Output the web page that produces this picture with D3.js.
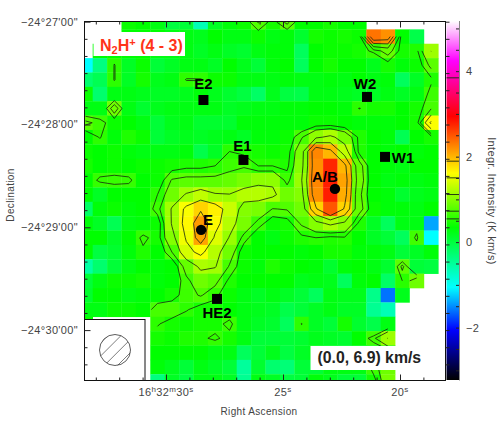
<!DOCTYPE html>
<html>
  <head>
    <meta charset="utf-8">
    <title>N2H+ (4 - 3)</title>
<style>
  body { margin: 0; background-color: #fff; }
  svg { display: block; }
  text { font-family: "Liberation Sans", sans-serif; }
  .tick-text { font-size: 11px; fill: #444; letter-spacing: .35px; }
  .axis-title { font-size: 10px; fill: #444; letter-spacing: .35px; }
  .name { font-size: 15px; font-weight: bold; fill: #000; }
</style>
  </head>
  <body>
    <div id="viz"></div>

  <script src="https://d3js.org/d3.v7.min.js"></script>
  <script>
    var _ = null; // blank pixels of the map

    // integrated intensity (K km/s), one row per map row, top to bottom
    var intensity = [
      [_,_,_,.45,.4, .3,.05,.1,-.6,.2, .35,.45,.8,.5,.85, .4,.4,.5,.4,.4, _,_,_,_,_],
      [_,_,_,.4,.4, .4,.3,.3,.25,.4, .3,.3,.45,.3,.35, .15,.5,.45,.5,.45, 2.4,2.25,.4,0,_],
      [_,.4,.4,.4,.4, .3,.3,.3,.2,.3, .2,.15,.3,.35,.35, -.1,.4,.45,.45,.5, .65,.9,.5,.55,1.18],
      [-1,-.3,.62,.2,.45, .1,.2,.3,.3,.2, .4,.25,.1,.35,.4, -.1,.4,.5,.4,.4, .25,.5,.35,.45,.85],
      [-.2,-.05,.62,.2,.5, .25,.3,.62,.62,.45, .45,.3,.3,.3,.35, .3,.3,.35,.3,.4, .3,.35,-.1,.2,.55],
      [.45,-.2,.3,.3,.25, .2,.2,.25,.35,.25, .15,.05,-.15,.25,.05, 0,.3,.3,.25,.2, .2,.3,.2,.3,.7],
      [.3,.3,.95,.3,.15, .25,.3,.3,.3,.3, .2,.25,.3,.3,.35, .35,.4,.4,.35,.61, .5,.5,.4,.5,.75],
      [.85,.7,.45,.4,.3, .1,.25,.3,.15,.15, .15,.35,.35,.35,.35, .35,.45,.45,.4,.35, .35,.35,.4,.5,1.65],
      [.4,.62,.35,.55,.45, .1,.2,.25,.2,.25, .3,.2,.35,.35,.45, .75,1.1,1.25,1,.55, .4,.35,-.05,.4,.5],
      [.45,.4,.45,.35,.3, .3,.3,.35,0,.2, .6,.55,.5,.45,.5, 1,2.3,2.05,1.35,.55, .4,.35,.4,.35,.4],
      [.5,.4,.45,.4,.45, .45,.5,.55,.55,.6, .7,.75,.6,.6,.55, 1.05,2.25,2.8,2.05,.9, .4,.35,.3,.4,.4],
      [.4,.66,.68,.66,.4, .45,.8,.85,.85,.85, .9,1,1.1,1.1,.7, 1.15,2.3,2.85,2.15,.95, .4,.3,.35,.3,.35],
      [.4,.2,.4,.4,.4, .6,.95,1.2,1.35,1.2, 1.18,1.3,1.3,1.25,.95, 1.05,2.25,2.85,2.1,.85, .4,.35,.15,.25,.3],
      [-.15,.35,.45,.35,.4, .7,1.2,1.65,1.9,1.75, 1.4,1.05,1,.77,.8, .95,1.9,2.55,1.9,.9, .45,.35,.35,.3,.4],
      [.35,.2,-.05,.3,.35, .45,1.2,1.7,2.2,1.7, 1.3,1,.7,.45,.5, .82,1.05,1.25,1.1,.55, .2,-.1,.3,.3,-1.35],
      [.4,.4,.2,.4,.66, .5,1.05,1.6,2.15,1.5, 1.15,.7,.4,.3,.45, .55,.6,.55,.58,.4, .2,.1,-.1,.72,-1],
      [.4,.05,.15,.35,.55, .4,.78,1.45,1.65,1.3, .95,.45,.4,.4,.4, .35,.4,.5,.5,.35, .35,.3,.1,.2,.35],
      [-.5,-.2,.1,.3,.4, .35,.4,.9,1.25,1.2, .75,.45,.35,.55,.45, .4,.35,.15,.35,.4, .3,.15,.85,.1,.05],
      [.1,.3,.45,.45,.5, .35,.4,.72,.95,.85, .55,.4,.4,.4,.4, .25,.3,.25,-.1,.35, .4,-.15,.6,.95,_],
      [.15,.4,.4,.3,.35, .4,.5,.7,.8,.65, .45,.3,.2,.3,.2, .1,-.1,.3,.25,.25, -.35,-1.55,.25,_,_],
      [.3,.3,.45,.45,.4, .75,.75,.62,.5,.5, .4,.3,.25,.2,0, .1,.2,.3,.2,.2, -.4,-.6,_,_,_],
      [.45,_,_,_,_, .62,.5,.45,.5,.5, .68,.3,.2,.15,-.1, .62,.2,.1,.5,.15, 0,.3,_,_,_],
      [_,_,_,_,_, .5,.45,.55,.55,.65, .5,.3,.1,.1,.1, .15,.25,.2,.15,.4, .72,1.18,_,_,_],
      [_,_,_,_,_, .4,.4,.4,.4,.3, .3,-.1,.1,.25,.05, .2,.25,.2,.15,.2, .3,.45,_,_,_],
      [_,_,_,_,_, .35,.25,.1,.3,.2, .1,-.45,.15,-.2,-.25, .1,.1,.3,.3,.3, .7,.95,_,_,_],
      [_,_,_,_,_, -.3,.2,.05,.3,.3, .2,-.4,.3,.2,.05, .1,.35,.25,.1,.1, .5,1,_,_,_]
    ];

    var contourLevels = [.6, .78, 1.17, 1.56, 1.95];
    var barLevels = [.6, .78, 1.17, 1.56, 1.95, 3.9];

    // colour table read from the wedge
    var colourValues = [-3.17, -2, -1, .4, 1.67, 3, 4.3, 5.23];
    var colourNames = ["#000000", "#0000ff", "#00ffff", "#00ff00", "#ffff00", "#ff0000", "#ff00ff", "#ffffff"];

    var barTicks = [-3, -2.5, -2, -1.5, -1, -.5, 0, .5, 1, 1.5, 2, 2.5, 3, 3.5, 4, 4.5, 5];
    var barLabels = [-2, 0, 2, 4];

    // RA in seconds of 16h32m, Dec in arcsec below -24d27m
    var raMinor = [29, 28, 27, 26, 24, 23, 22, 21, 19, 31, 32, 33, 18];
    var raMajor = [30, 25, 20];
    var decMinor = [10, 20, 30, 40, 50, 70, 80, 90, 100, 110, 130, 140, 150, 160, 170, 190, 200];
    var decMajor = [0, 60, 120, 180];
    var decLabels = ["\u221224\u00b027'00\"", "\u221224\u00b028'00\"", "\u221224\u00b029'00\"", "\u221224\u00b030'00\""];

    var squares = [
      { name: "E2", ra: 28.40, dec: 45.7, dx: 0, dy: -11 },
      { name: "E1", ra: 26.69, dec: 80.7, dx: -1, dy: -9 },
      { name: "W2", ra: 21.41, dec: 43.9, dx: -2, dy: -8 },
      { name: "W1", ra: 20.64, dec: 78.9, dx: 18, dy: 6 },
      { name: "HE2", ra: 27.82, dec: 161.8, dx: 0, dy: 19 }
    ];
    var circles = [
      { name: "A/B", ra: 22.78, dec: 97.6, dx: -10, dy: -7 },
      { name: "E", ra: 28.50, dec: 121.5, dx: 7, dy: -5 }
    ];

    var width = 503, height = 427;
    var frame = { left: 84.5, right: 445.5, top: 21.5, bottom: 380.5 };
    var nRows = intensity.length, nCols = intensity[0].length;

    var svg = d3.select("#viz").append("svg")
        .attr("width", width)
        .attr("height", height);

    var colX = d3.scaleLinear().domain([0, nCols]).range([78.3, 438.3]);
    var rowY = d3.scaleLinear().domain([0, nRows]).range([15, 388.6]);
    var raX = d3.scaleLinear().domain([30, 20]).range([166, 400]);
    var decY = d3.scaleLinear().domain([0, 60]).range([21.7, 124.5]);
    var colour = d3.scaleLinear().domain(colourValues).range(colourNames);
    var barY = d3.scaleLinear().domain([5.23, -3.17]).range([21, 380]);

    svg.append("clipPath").attr("id", "map-clip").append("rect")
        .attr("x", frame.left).attr("y", frame.top)
        .attr("width", frame.right - frame.left)
        .attr("height", frame.bottom - frame.top);

    var map = svg.append("g").attr("clip-path", "url(#map-clip)");

    // pixels
    intensity.forEach(function(row, r) {
      row.forEach(function(v, c) {
        if (v === null) return;
        map.append("rect")
            .attr("x", colX(c))
            .attr("y", rowY(r))
            .attr("width", colX(1) - colX(0) + .3)
            .attr("height", rowY(1) - rowY(0) + .3)
            .attr("fill", colour(v));
      });
    });

    // contours, broken where the map has no data
    var flat = [];
    intensity.forEach(function(row) {
      row.forEach(function(v) { flat.push(v === null ? 0 : v); });
    });

    function hasData(p) {
      var c0 = Math.floor(p[0] - .5), r0 = Math.floor(p[1] - .5),
          c1 = Math.ceil(p[0] - .5), r1 = Math.ceil(p[1] - .5);
      if (c0 < 0 || r0 < 0 || c1 >= nCols || r1 >= nRows) return false;
      return intensity[r0][c0] !== null && intensity[r1][c1] !== null;
    }

    function openLines(ring) {
      var keep = ring.map(hasData);
      if (keep.every(Boolean)) return [ring];
      var n = ring.length - 1, start = keep.indexOf(false), out = [], cur = [];
      for (var k = 1; k <= n; k++) {
        var i = (start + k) % n;
        if (keep[i]) cur.push(ring[i]);
        else {
          if (cur.length > 1) out.push(cur);
          cur = [];
        }
      }
      if (cur.length > 1) out.push(cur);
      return out;
    }

    var line = d3.line()
        .x(function(p) { return colX(p[0]); })
        .y(function(p) { return rowY(p[1]); });

    var contours = d3.contours()
        .size([nCols, nRows])
        .thresholds(contourLevels)(flat);

    contours.forEach(function(level) {
      level.coordinates.forEach(function(poly) {
        poly.forEach(function(ring) {
          openLines(ring).forEach(function(piece) {
            map.append("path")
                .attr("d", line(piece))
                .attr("fill", "none")
                .attr("stroke", "#17260f")
                .attr("stroke-width", .8);
          });
        });
      });
    });

    // colour wedge
    var grad = svg.append("defs").append("linearGradient")
        .attr("id", "wedge")
        .attr("x1", 0).attr("x2", 0).attr("y1", 1).attr("y2", 0);

    colourValues.forEach(function(v, i) {
      grad.append("stop")
          .attr("offset", (v - colourValues[0]) / (colourValues[colourValues.length - 1] - colourValues[0]))
          .attr("stop-color", colourNames[i]);
    });

    svg.append("rect")
        .attr("x", 446.5).attr("y", 21)
        .attr("width", 12.5).attr("height", 359)
        .attr("fill", "url(#wedge)");

    svg.selectAll(".bar-level")
        .data(barLevels)
      .enter().append("line")
        .attr("class", "bar-level")
        .attr("x1", 446.5).attr("x2", 459)
        .attr("y1", function(d) { return barY(d); })
        .attr("y2", function(d) { return barY(d); })
        .attr("stroke", "#17260f")
        .attr("stroke-width", .9);

    svg.append("line")
        .attr("x1", 459.5).attr("x2", 459.5)
        .attr("y1", 21).attr("y2", 380.5)
        .attr("stroke", "#8a8a8a")
        .attr("stroke-width", 1);

    // wedge ticks and labels sit 2.4px above the colour scale
    var barAxis = svg.append("g")
        .attr("transform", "translate(459,-2.4)")
        .call(d3.axisLeft(barY).tickValues(barTicks).tickSize(3).tickFormat(""));
    barAxis.select(".domain").remove();
    barAxis.selectAll("line").attr("stroke", "#222");

    svg.selectAll(".bar-label")
        .data(barLabels)
      .enter().append("text")
        .attr("class", "bar-label tick-text")
        .attr("x", 466)
        .attr("y", function(d) { return barY(d) - 2.4; })
        .attr("dy", "0.36em")
        .text(function(d) { return d < 0 ? "\u2212" + Math.abs(d) : d; });

    // inset with the beam, and the frame
    svg.append("rect")
        .attr("x", frame.left).attr("y", 319.5)
        .attr("width", 60.5).attr("height", frame.bottom - 319.5)
        .attr("fill", "#fff")
        .attr("stroke", "#111");

    svg.append("clipPath").attr("id", "beam-clip").append("circle")
        .attr("cx", 115).attr("cy", 350).attr("r", 15.5);

    var beam = svg.append("g").attr("clip-path", "url(#beam-clip)");
    d3.range(-24, 25, 6.6).forEach(function(k) {
      beam.append("line")
          .attr("x1", 115 - 20 + k).attr("y1", 350 + 20 + k)
          .attr("x2", 115 + 20 + k).attr("y2", 350 - 20 + k)
          .attr("stroke", "#444")
          .attr("stroke-width", .7);
    });
    svg.append("circle")
        .attr("cx", 115).attr("cy", 350).attr("r", 15.5)
        .attr("fill", "none")
        .attr("stroke", "#333")
        .attr("stroke-width", .8);

    svg.append("rect")
        .attr("x", frame.left).attr("y", frame.top)
        .attr("width", frame.right - frame.left)
        .attr("height", frame.bottom - frame.top)
        .attr("fill", "none")
        .attr("stroke", "#111");

    // axes, ticks pointing into the map
    function addAxis(axis, size, values, transform) {
      var g = svg.append("g")
          .attr("transform", transform)
          .call(axis.tickValues(values).tickSize(-size).tickFormat(""));
      g.select(".domain").remove();
      g.selectAll("line").attr("stroke", "#222");
    }

    var raInside = raMinor.filter(function(s) { return raX(s) > frame.left && raX(s) < frame.right; });
    addAxis(d3.axisBottom(raX), 3, raInside, "translate(0," + frame.bottom + ")");
    addAxis(d3.axisBottom(raX), 6, raMajor, "translate(0," + frame.bottom + ")");
    addAxis(d3.axisTop(raX), 3, raInside, "translate(0," + frame.top + ")");
    addAxis(d3.axisTop(raX), 6, raMajor, "translate(0," + frame.top + ")");
    addAxis(d3.axisLeft(decY), 3, decMinor, "translate(" + frame.left + ",0)");
    addAxis(d3.axisLeft(decY), 6, decMajor, "translate(" + frame.left + ",0)");
    addAxis(d3.axisRight(decY), -4, decMinor.concat(decMajor), "translate(" + frame.right + ",0)");

    svg.selectAll(".dec-label")
        .data(decMajor)
      .enter().append("text")
        .attr("class", "dec-label tick-text")
        .attr("x", 78)
        .attr("y", function(d) { return decY(d); })
        .attr("dy", "0.36em")
        .attr("text-anchor", "end")
        .text(function(d, i) { return decLabels[i]; });

    function raLabel(x, parts) {
      var t = svg.append("text")
          .attr("class", "tick-text")
          .attr("x", x)
          .attr("y", 396)
          .attr("text-anchor", "middle");
      parts.forEach(function(p, i) {
        var up = i % 2 === 1;
        t.append("tspan")
            .attr("font-size", up ? "8px" : null)
            .attr("dy", up ? -4 : (i ? 4 : 0))
            .text(p);
      });
    }
    raLabel(raX(30), ["16", "h", "32", "m", "30", "s"]);
    raLabel(raX(25), ["25", "s"]);
    raLabel(raX(20), ["20", "s"]);

    svg.append("text")
        .attr("class", "axis-title")
        .attr("x", 259).attr("y", 415)
        .attr("text-anchor", "middle")
        .text("Right Ascension");

    svg.append("text")
        .attr("class", "axis-title")
        .attr("transform", "translate(14,195) rotate(-90)")
        .attr("text-anchor", "middle")
        .text("Declination");

    svg.append("text")
        .attr("class", "tick-text")
        .attr("transform", "translate(488,201) rotate(90)")
        .attr("text-anchor", "middle")
        .text("Integr. Intensity (K km/s)");

    // sources
    svg.selectAll(".src-square")
        .data(squares)
      .enter().append("rect")
        .attr("class", "src-square")
        .attr("x", function(d) { return raX(d.ra) - 5; })
        .attr("y", function(d) { return decY(d.dec) - 5; })
        .attr("width", 10)
        .attr("height", 10)
        .attr("fill", "#000");

    svg.selectAll(".src-circle")
        .data(circles)
      .enter().append("circle")
        .attr("class", "src-circle")
        .attr("cx", function(d) { return raX(d.ra); })
        .attr("cy", function(d) { return decY(d.dec); })
        .attr("r", 5.2)
        .attr("fill", "#000");

    svg.selectAll(".name")
        .data(squares.concat(circles))
      .enter().append("text")
        .attr("class", "name")
        .attr("x", function(d) { return raX(d.ra) + d.dx; })
        .attr("y", function(d) { return decY(d.dec) + d.dy; })
        .attr("text-anchor", "middle")
        .text(function(d) { return d.name; });

    // title and velocity range boxes
    svg.append("rect")
        .attr("x", 93.5).attr("y", 32)
        .attr("width", 91.5).attr("height", 24)
        .attr("fill", "#fff");

    var title = svg.append("text")
        .attr("x", 100).attr("y", 51)
        .attr("font-size", "16px")
        .attr("font-weight", "bold")
        .attr("fill", "#ff3318");
    title.append("tspan").text("N");
    title.append("tspan").attr("font-size", "11px").attr("dy", 3).text("2");
    title.append("tspan").attr("dy", -3).text("H");
    title.append("tspan").attr("font-size", "11px").attr("dy", -5).text("+");
    title.append("tspan").attr("dy", 5).text(" (4 - 3)");

    svg.append("rect")
        .attr("x", 310.5).attr("y", 346)
        .attr("width", 116).attr("height", 24)
        .attr("fill", "#fff");

    svg.append("text")
        .attr("x", 317.5).attr("y", 363)
        .attr("font-size", "15.8px")
        .attr("font-weight", "bold")
        .attr("fill", "#222")
        .text("(0.0, 6.9) km/s");

  </script>
  </body>
</html>
